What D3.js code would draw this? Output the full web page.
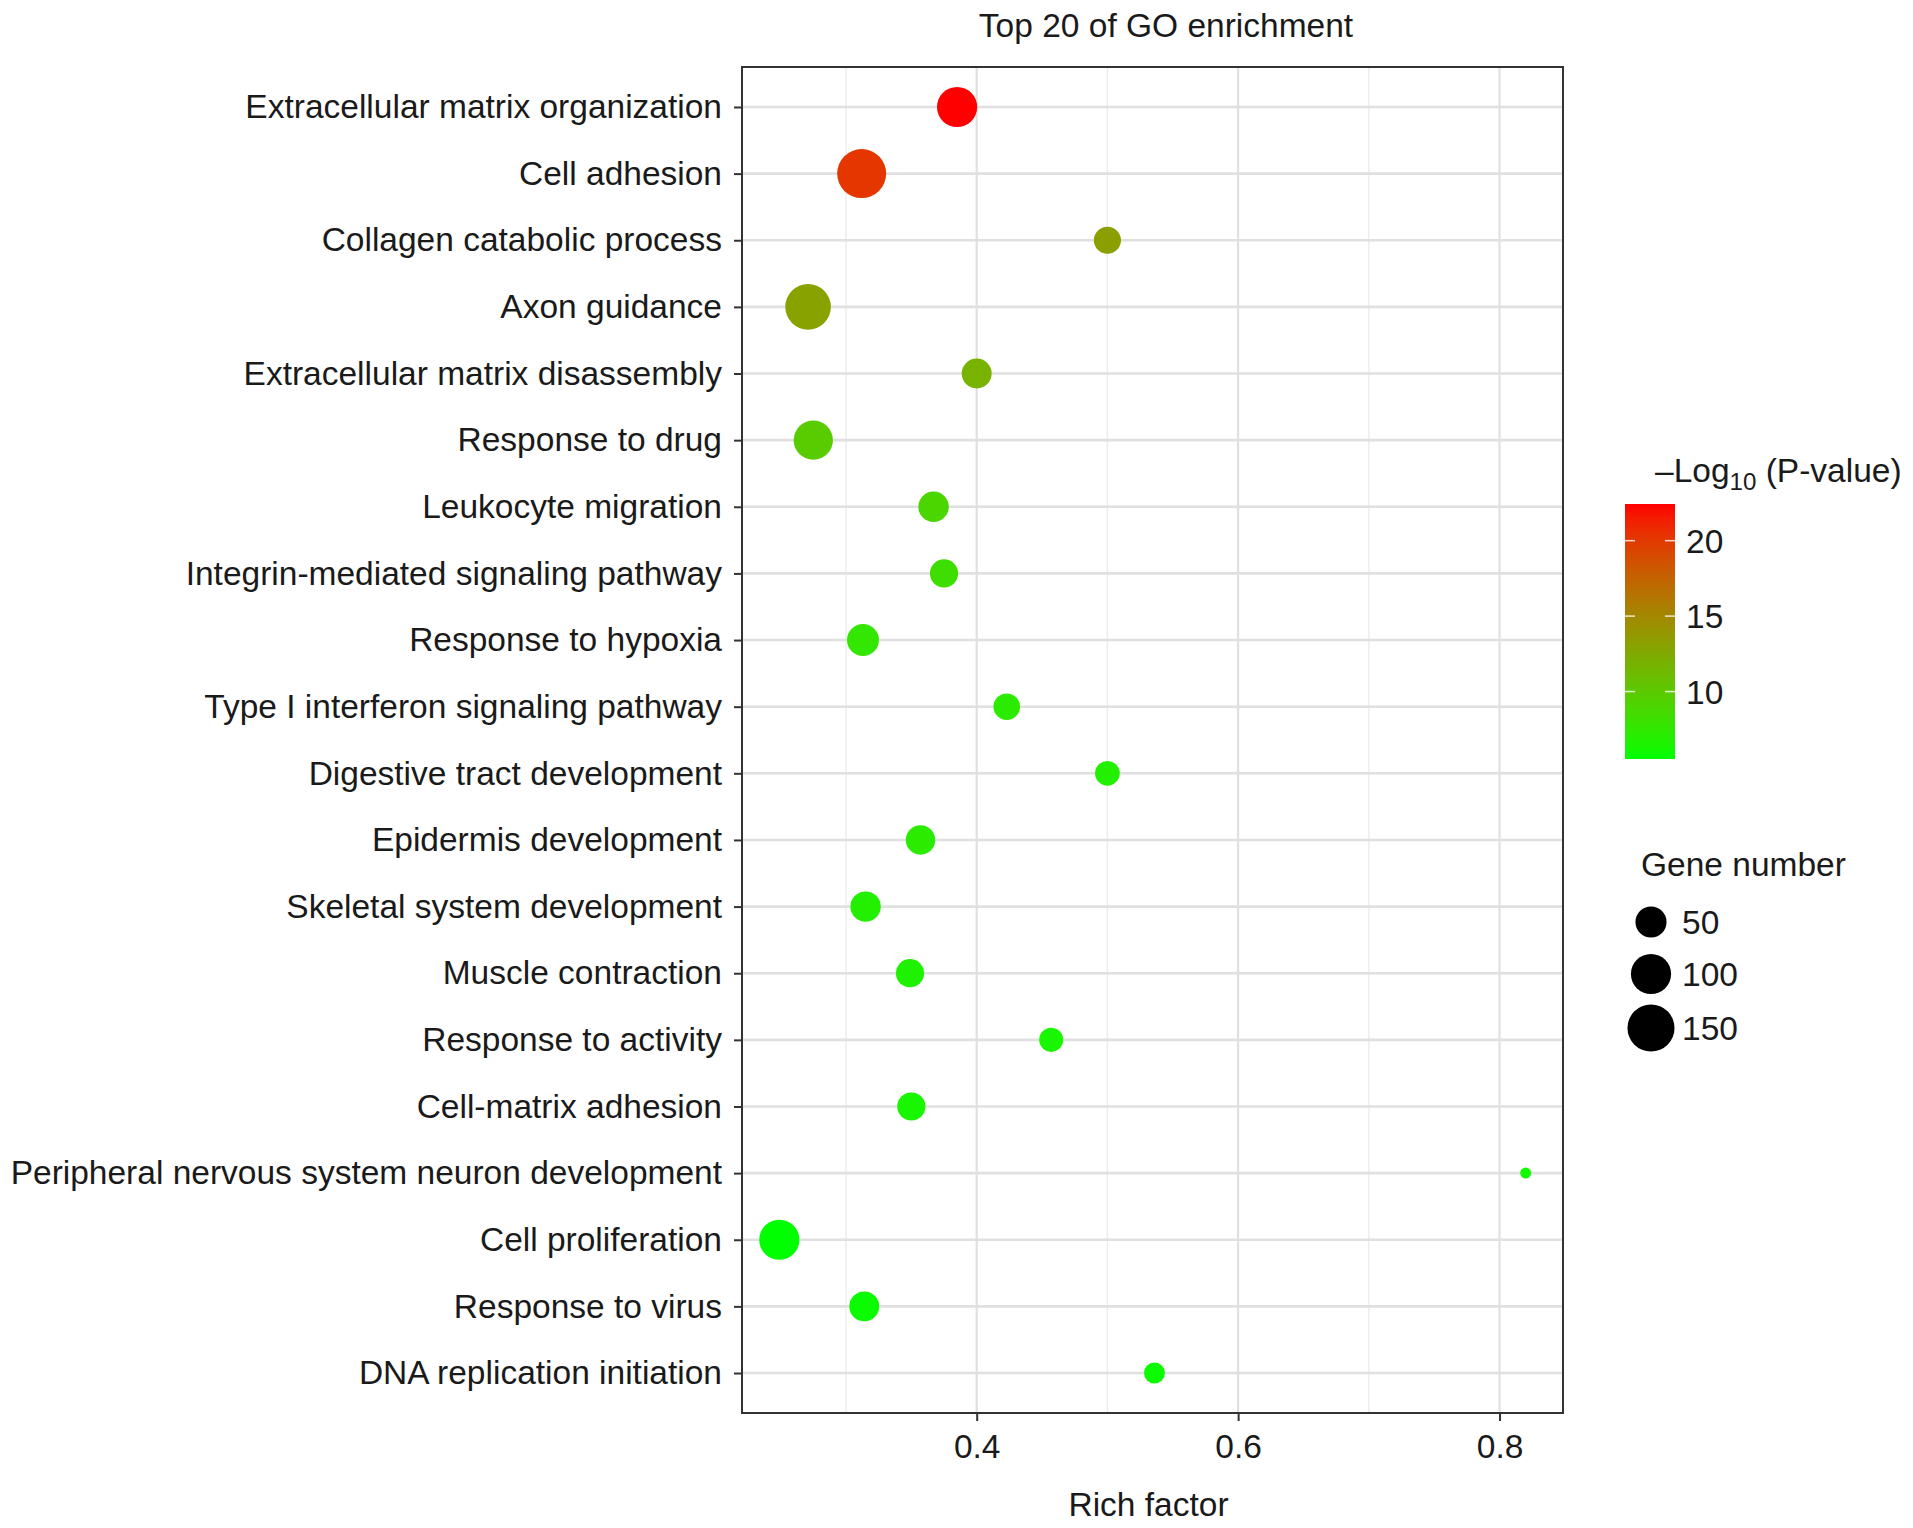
<!DOCTYPE html>
<html>
<head>
<meta charset="utf-8">
<script src="https://cdn.jsdelivr.net/npm/d3@7"></script>
<style>
  html, body { margin: 0; padding: 0; background: #ffffff; }
  svg { display: block; font-family: "Liberation Sans", Arial, Helvetica, sans-serif; }
</style>
</head>
<body>
<svg id="chart" width="1913" height="1528"></svg>
<script>
// ---------------- data ----------------
const categories = [
  "Extracellular matrix organization",
  "Cell adhesion",
  "Collagen catabolic process",
  "Axon guidance",
  "Extracellular matrix disassembly",
  "Response to drug",
  "Leukocyte migration",
  "Integrin-mediated signaling pathway",
  "Response to hypoxia",
  "Type I interferon signaling pathway",
  "Digestive tract development",
  "Epidermis development",
  "Skeletal system development",
  "Muscle contraction",
  "Response to activity",
  "Cell-matrix adhesion",
  "Peripheral nervous system neuron development",
  "Cell proliferation",
  "Response to virus",
  "DNA replication initiation"
];
const richFactor = [0.385, 0.312, 0.500, 0.271, 0.400, 0.275, 0.367, 0.375, 0.313, 0.423,
                    0.500, 0.357, 0.315, 0.349, 0.457, 0.350, 0.820, 0.249, 0.314, 0.536];
const geneNumber = [100, 166, 34, 139, 45, 94, 47, 38, 54, 32,
                    26, 43, 47, 38, 24, 38, 5, 100, 45, 16];
const negLog10P  = [22.43, 20.2, 13.2, 13.0, 11.8, 9.8, 9.0, 8.2, 7.6, 7.2,
                    6.8, 7.2, 6.8, 6.6, 6.3, 6.3, 6.0, 5.53, 5.8, 5.9];
const xTicks = [0.4, 0.6, 0.8];
const xMinorTicks = [0.3, 0.5, 0.7];
const colorTicks = [10, 15, 20];
const sizeTicks = [50, 100, 150];

const titleText = "Top 20 of GO enrichment";
const xTitle = "Rich factor";
const sizeTitle = "Gene number";

// ---------------- layout ----------------
const panel = { left: 742, right: 1563, top: 67, bottom: 1413 };
const FONT = 33.5;
const textColor = "#1a1a1a";

const svg = d3.select("#chart");

// x scale with 5% expansion like ggplot
const ext = d3.extent(richFactor);
const pad = (ext[1] - ext[0]) * 0.05;
const x = d3.scaleLinear().domain([ext[0] - pad, ext[1] + pad]).range([panel.left, panel.right]);
const y = d3.scalePoint().domain(categories).range([panel.top, panel.bottom]).padding(0.6);

const cExt = d3.extent(negLog10P);
const color = d3.scaleLinear().domain(cExt).range(["#00ff00", "#ff0000"])
  .interpolate(d3.interpolateRgb.gamma(1.3));

const nExt = d3.extent(geneNumber);
const sizeT = d3.scaleLinear().domain(nExt).range([0, 1]);
const rArea = d3.scaleSqrt().domain([0, 1]).range([0, 19]);
const rMin = 5.5;
const radius = n => rMin + rArea(sizeT(n));

// ---------------- panel ----------------
const g = svg.append("g");

g.selectAll("line.minor").data(xMinorTicks).enter().append("line")
  .attr("x1", d => x(d)).attr("x2", d => x(d))
  .attr("y1", panel.top).attr("y2", panel.bottom)
  .attr("stroke", "#ececec").attr("stroke-width", 1.4);
g.selectAll("line.vmaj").data(xTicks).enter().append("line")
  .attr("x1", d => x(d)).attr("x2", d => x(d))
  .attr("y1", panel.top).attr("y2", panel.bottom)
  .attr("stroke", "#e0e0e0").attr("stroke-width", 2.2);
g.selectAll("line.hmaj").data(categories).enter().append("line")
  .attr("x1", panel.left).attr("x2", panel.right)
  .attr("y1", d => y(d)).attr("y2", d => y(d))
  .attr("stroke", "#e0e0e0").attr("stroke-width", 2.6);

const pts = categories.map((c, i) => ({ c, rf: richFactor[i], n: geneNumber[i], p: negLog10P[i] }));
g.selectAll("circle.pt").data(pts).enter().append("circle")
  .attr("cx", d => x(d.rf)).attr("cy", d => y(d.c))
  .attr("r", d => radius(d.n))
  .attr("fill", d => color(d.p));

g.append("rect")
  .attr("x", panel.left).attr("y", panel.top)
  .attr("width", panel.right - panel.left).attr("height", panel.bottom - panel.top)
  .attr("fill", "none").attr("stroke", "#333333").attr("stroke-width", 2);

// axes
const xAxis = d3.axisBottom(x).tickValues(xTicks).tickFormat(d3.format(".1f")).tickSize(8).tickPadding(13);
const xg = svg.append("g").attr("transform", `translate(0,${panel.bottom})`).call(xAxis);
xg.select(".domain").remove();
xg.selectAll(".tick line").attr("stroke", "#333").attr("stroke-width", 2);
xg.selectAll(".tick text").attr("font-size", FONT).attr("fill", textColor)
  .attr("font-family", "Liberation Sans, Arial, sans-serif");

const yAxis = d3.axisLeft(y).tickSize(8).tickPadding(12);
const yg = svg.append("g").attr("transform", `translate(${panel.left},0)`).call(yAxis);
yg.select(".domain").remove();
yg.selectAll(".tick line").attr("stroke", "#333").attr("stroke-width", 2);
yg.selectAll(".tick text").attr("font-size", FONT).attr("fill", textColor)
  .attr("font-family", "Liberation Sans, Arial, sans-serif");

// titles
svg.append("text").attr("x", 1166).attr("y", 37).attr("text-anchor", "middle")
  .attr("font-size", FONT).attr("fill", textColor).text(titleText);
svg.append("text").attr("x", (panel.left + panel.right) / 2 - 4).attr("y", 1516).attr("text-anchor", "middle")
  .attr("font-size", FONT).attr("fill", textColor).text(xTitle);

// ---------------- colour legend ----------------
const bar = { x: 1625, y: 504, w: 50, h: 255 };
const defs = svg.append("defs");
const grad = defs.append("linearGradient").attr("id", "cgrad")
  .attr("x1", "0").attr("y1", "1").attr("x2", "0").attr("y2", "0");
d3.range(0, 1.0001, 0.05).forEach(t => {
  const v = cExt[0] + t * (cExt[1] - cExt[0]);
  grad.append("stop").attr("offset", t).attr("stop-color", color(v));
});
svg.append("rect").attr("x", bar.x).attr("y", bar.y).attr("width", bar.w).attr("height", bar.h)
  .attr("fill", "url(#cgrad)");
const cy = d3.scaleLinear().domain(cExt).range([bar.y + bar.h, bar.y]);
const ct = svg.append("g");
colorTicks.forEach(v => {
  ct.append("line").attr("x1", bar.x).attr("x2", bar.x + 10).attr("y1", cy(v)).attr("y2", cy(v))
    .attr("stroke", "#ffffff").attr("stroke-opacity", 0.8).attr("stroke-width", 1.5);
  ct.append("line").attr("x1", bar.x + bar.w - 10).attr("x2", bar.x + bar.w).attr("y1", cy(v)).attr("y2", cy(v))
    .attr("stroke", "#ffffff").attr("stroke-opacity", 0.8).attr("stroke-width", 1.5);
  ct.append("text").attr("x", 1686).attr("y", cy(v)).attr("dy", "0.36em")
    .attr("font-size", FONT).attr("fill", textColor).text(v);
});
const lt = svg.append("text").attr("x", 1655).attr("y", 482).attr("font-size", FONT).attr("fill", textColor);
lt.append("tspan").text("\u2013Log");
lt.append("tspan").attr("font-size", FONT * 0.72).attr("dy", 8).text("10");
lt.append("tspan").attr("dy", -8).text(" (P-value)");

// ---------------- size legend ----------------
svg.append("text").attr("x", 1641).attr("y", 876).attr("font-size", FONT).attr("fill", textColor).text(sizeTitle);
const sizeY = [922, 974, 1028];
sizeTicks.forEach((n, i) => {
  svg.append("circle").attr("cx", 1651).attr("cy", sizeY[i]).attr("r", radius(n)).attr("fill", "#000");
  svg.append("text").attr("x", 1682).attr("y", sizeY[i]).attr("dy", "0.36em")
    .attr("font-size", FONT).attr("fill", textColor).text(n);
});
</script>
</body>
</html>
